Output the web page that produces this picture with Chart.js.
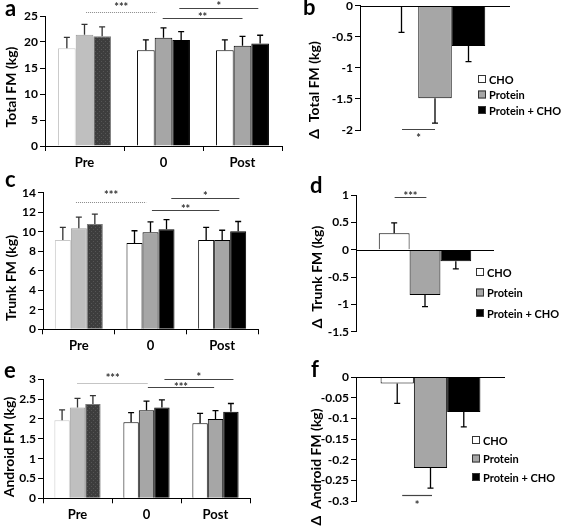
<!DOCTYPE html>
<html>
<head>
<meta charset="utf-8">
<script src="https://cdn.jsdelivr.net/npm/chart.js@4"></script>
<style>
  body { margin: 0; background: #fff; width: 567px; height: 526px; position: relative; overflow: hidden; }
  canvas { position: absolute; }
</style>
</head>
<body>
<canvas id="ca" width="290" height="172" style="left:0;top:0"></canvas>
<canvas id="cb" width="277" height="182" style="left:290px;top:-10px"></canvas>
<canvas id="cc" width="290" height="185" style="left:0;top:168px"></canvas>
<canvas id="cd" width="277" height="180" style="left:290px;top:168px"></canvas>
<canvas id="ce" width="290" height="171" style="left:0;top:355px"></canvas>
<canvas id="cf" width="277" height="171" style="left:290px;top:355px"></canvas>
<script>
var groups = ['Pre', '0', 'Post'];
var seriesNames = ['CHO', 'Protein', 'Protein + CHO'];

// a - total fat mass (kg), bars and error bar lengths
var totalCho = [18.8, 18.4, 18.4];
var totalChoErr = [2.1, 2.0, 2.0];
var totalPro = [21.4, 20.8, 19.3];
var totalProErr = [2.0, 1.9, 1.8];
var totalProCho = [21.1, 20.4, 19.7];
var totalProChoErr = [1.8, 1.6, 1.6];

// b - change in total FM, order CHO / Protein / Protein + CHO
var deltaTotal = [-0.02, -1.49, -0.65];
var deltaTotalErr = [0.41, 0.40, 0.25];

// c - trunk FM
var trunkCho = [9.15, 8.85, 9.15];
var trunkChoErr = [1.3, 1.25, 1.3];
var trunkPro = [10.35, 9.95, 9.15];
var trunkProErr = [1.15, 1.05, 1.0];
var trunkProCho = [10.8, 10.25, 10.05];
var trunkProChoErr = [1.0, 1.0, 1.0];

// d
var deltaTrunk = [0.30, -0.83, -0.21];
var deltaTrunkErr = [0.19, 0.21, 0.14];

// e - android FM
var androidCho = [1.97, 1.92, 1.89];
var androidChoErr = [0.26, 0.24, 0.25];
var androidPro = [2.29, 2.22, 2.0];
var androidProErr = [0.23, 0.23, 0.21];
var androidProCho = [2.38, 2.29, 2.18];
var androidProChoErr = [0.21, 0.19, 0.21];

// f
var deltaAndroid = [-0.015, -0.22, -0.084];
var deltaAndroidErr = [0.048, 0.049, 0.036];

Chart.defaults.font.family = 'Lato';
Chart.defaults.font.weight = 'bold';
Chart.defaults.font.size = 12;
Chart.defaults.color = '#000';

// dotted dark fill used for the faded "Pre" bars
function darkPattern() {
    var c = document.createElement('canvas');
    c.width = 4; c.height = 4;
    var g = c.getContext('2d');
    g.fillStyle = '#3d3d3d';
    g.fillRect(0, 0, 4, 4);
    g.fillStyle = '#555';
    g.fillRect(1, 1, 1, 1);
    g.fillRect(3, 3, 1, 1);
    return g.createPattern(c, 'repeat');
}

var decor = {
    id: 'decor',
    afterDraw: function (chart, args, o) {
        var ctx = chart.ctx, xs = chart.scales.x, ys = chart.scales.y, a = chart.chartArea;
        ctx.save();
        if (o.zero) {
            var z = Math.round(ys.getPixelForValue(0)) + 0.5;
            ctx.strokeStyle = '#000';
            ctx.lineWidth = 1;
            ctx.beginPath();
            ctx.moveTo(a.left, z);
            ctx.lineTo(a.right, z);
            ctx.stroke();
        }
        // error bars
        chart.data.datasets.forEach(function (ds, di) {
            chart.getDatasetMeta(di).data.forEach(function (bar, i) {
                var v = ds.data[i], e = ds.err[i];
                var y1 = ys.getPixelForValue(v < 0 ? v - e : v + e);
                ctx.strokeStyle = (o.errColor && o.errColor[i]) || '#000';
                ctx.lineWidth = 1.3;
                ctx.beginPath();
                ctx.moveTo(bar.x, bar.y);
                ctx.lineTo(bar.x, y1);
                ctx.moveTo(bar.x - 3, y1);
                ctx.lineTo(bar.x + 3, y1);
                ctx.stroke();
            });
        });
        // significance lines
        (o.brackets || []).forEach(function (b) {
            var x0 = xs.getPixelForValue(b.from), x1 = xs.getPixelForValue(b.to);
            var y = Math.round(ys.getPixelForValue(b.y)) + 0.5;
            ctx.strokeStyle = b.dotted ? '#8a8a8a' : '#444';
            ctx.lineWidth = b.dotted ? 1 : 1.2;
            ctx.setLineDash(b.dotted ? [1, 1] : []);
            ctx.beginPath();
            ctx.moveTo(x0, y);
            ctx.lineTo(x1, y);
            ctx.stroke();
            ctx.setLineDash([]);
            ctx.fillStyle = '#333';
            ctx.font = 'bold 11px Lato';
            ctx.textAlign = 'center';
            ctx.textBaseline = 'alphabetic';
            ctx.fillText(b.text, (x0 + x1) / 2, y - b.dy + 6);
        });
        // legend
        if (o.legend) {
            var L = o.legend, s = 8;
            chart.data.datasets.forEach(function (ds, i) {
                var cy = L.y + i * L.step;
                ctx.fillStyle = ds.backgroundColor;
                ctx.fillRect(L.x, cy - s / 2, s, s);
                ctx.strokeStyle = '#333';
                ctx.lineWidth = 1;
                ctx.strokeRect(L.x + 0.5, cy - s / 2 + 0.5, s - 1, s - 1);
                ctx.fillStyle = '#000';
                ctx.font = 'bold ' + L.size + 'px Lato';
                ctx.textAlign = 'left';
                ctx.textBaseline = 'middle';
                ctx.fillText(ds.label, L.x + s + 3, cy + 1);
            });
        }
        // y axis title
        if (o.title) {
            ctx.save();
            ctx.translate(o.title.x, o.title.y);
            ctx.rotate(-Math.PI / 2);
            ctx.font = 'bold 14px Lato';
            ctx.fillStyle = '#000';
            ctx.textAlign = 'center';
            ctx.textBaseline = 'middle';
            ctx.fillText(o.title.text, 0, 0);
            ctx.restore();
        }
        // panel letter
        if (o.panel) {
            ctx.font = 'bold 22px Lato';
            ctx.fillStyle = '#000';
            ctx.textAlign = 'left';
            ctx.textBaseline = 'alphabetic';
            ctx.fillText(o.panel.text, o.panel.x, o.panel.y);
        }
        ctx.restore();
    }
};

function fmt(v) { return String(Math.round(v * 1000) / 1000); }

function yScale(o) {
    return {
        min: o.min, max: o.max,
        ticks: { stepSize: o.step, padding: 2, callback: fmt },
        grid: { drawOnChartArea: false, tickLength: 5, color: '#000' },
        border: { color: '#000' },
        afterFit: function (s) { s.width = o.area.left; }
    };
}

function groupChart(id, o) {
    var pat = darkPattern();
    return new Chart(document.getElementById(id), {
        type: 'bar',
        data: {
            labels: groups,
            datasets: [
                { label: seriesNames[0], data: o.vals[0], err: o.errs[0],
                  backgroundColor: ['#fff', '#fff', '#fff'], borderColor: ['#c8c8c8', '#000', '#000'], borderWidth: 1 },
                { label: seriesNames[1], data: o.vals[1], err: o.errs[1],
                  backgroundColor: ['#bfbfbf', '#a6a6a6', '#a6a6a6'], borderColor: ['#9c9c9c', '#000', '#000'], borderWidth: 1 },
                { label: seriesNames[2], data: o.vals[2], err: o.errs[2],
                  backgroundColor: [pat, '#000', '#000'], borderColor: ['#7a7a7a', '#000', '#000'], borderWidth: 1 }
            ]
        },
        options: {
            responsive: false, animation: false,
            layout: { padding: { top: o.area.top, right: o.area.right, left: 0, bottom: 0 } },
            datasets: { bar: { categoryPercentage: 0.67, barPercentage: 1 } },
            scales: {
                x: {
                    grid: { offset: true, drawOnChartArea: false, tickLength: 5, color: '#000' },
                    border: { color: '#000' },
                    ticks: { padding: 4, font: { size: 13 } },
                    afterFit: function (s) { s.height = o.area.xh; }
                },
                y: yScale(o)
            },
            plugins: {
                legend: { display: false }, tooltip: { enabled: false },
                decor: { errColor: ['#333', '#000', '#000'], brackets: o.brackets, title: o.title, panel: o.panel }
            }
        },
        plugins: [decor]
    });
}

function deltaChart(id, o) {
    var fills = ['#fff', '#a6a6a6', '#000'];
    return new Chart(document.getElementById(id), {
        type: 'bar',
        data: {
            labels: [''],
            datasets: seriesNames.map(function (n, i) {
                return { label: n, data: [o.vals[i]], err: [o.errs[i]],
                         backgroundColor: fills[i], borderColor: '#000', borderWidth: 1 };
            })
        },
        options: {
            responsive: false, animation: false,
            layout: { padding: { top: o.area.top, right: o.area.right, left: 0, bottom: o.area.bottom } },
            datasets: { bar: { categoryPercentage: 0.67, barPercentage: 1 } },
            scales: { x: { display: false }, y: yScale(o) },
            plugins: {
                legend: { display: false }, tooltip: { enabled: false },
                decor: { zero: true, brackets: o.brackets, legend: o.legend, title: o.title, panel: o.panel }
            }
        },
        plugins: [decor]
    });
}

groupChart('ca', {
    vals: [totalCho, totalPro, totalProCho], errs: [totalChoErr, totalProErr, totalProChoErr],
    min: 0, max: 25, step: 5,
    area: { left: 45, top: 16, right: 8, xh: 26 },
    brackets: [
        { from: 0.02, to: 0.91, y: 25.8, text: '***', dotted: true, dy: 7.7 },
        { from: 0.99, to: 2.0, y: 24.7, text: '**', dy: 4 },
        { from: 1.2, to: 2.2, y: 26.5, text: '*', dy: 4.3 }
    ],
    title: { text: 'Total FM (kg)', x: 11, y: 87 },
    panel: { text: 'a', x: 5, y: 16 }
});

deltaChart('cb', {
    vals: deltaTotal, errs: deltaTotalErr,
    min: -2, max: 0, step: 0.5,
    area: { left: 70, top: 15.7, right: 57, bottom: 42 },
    brackets: [{ from: -0.22, to: 0.0, y: -1.99, text: '*', dy: -6 }],
    legend: { x: 188, y: 89, step: 15.5, size: 11 },
    title: { text: 'Δ  Total FM (kg)', x: 24, y: 100 },
    panel: { text: 'b', x: 13, y: 25 }
});

groupChart('cc', {
    vals: [trunkCho, trunkPro, trunkProCho], errs: [trunkChoErr, trunkProErr, trunkProChoErr],
    min: 0, max: 14, step: 2,
    area: { left: 43, top: 24.7, right: 32, xh: 23.7 },
    brackets: [
        { from: -0.04, to: 0.94, y: 13.0, text: '***', dotted: true, dy: 9.6 },
        { from: 1.02, to: 1.96, y: 12.2, text: '**', dy: 4 },
        { from: 1.29, to: 2.24, y: 13.5, text: '*', dy: 5 }
    ],
    title: { text: 'Trunk FM (kg)', x: 11, y: 110 },
    panel: { text: 'c', x: 5, y: 19 }
});

deltaChart('cd', {
    vals: deltaTrunk, errs: deltaTrunkErr,
    min: -1.5, max: 1, step: 0.5,
    area: { left: 66, top: 27, right: 73, bottom: 16.3 },
    brackets: [{ from: -0.22, to: 0.01, y: 0.97, text: '***', dy: 4 }],
    legend: { x: 186, y: 104, step: 20.5, size: 11 },
    title: { text: 'Δ  Trunk FM (kg)', x: 27, y: 109 },
    panel: { text: 'd', x: 20, y: 25 }
});

groupChart('ce', {
    vals: [androidCho, androidPro, androidProCho], errs: [androidChoErr, androidProErr, androidProChoErr],
    min: 0, max: 3, step: 0.5,
    area: { left: 43, top: 24.3, right: 40, xh: 27.7 },
    brackets: [
        { from: 0.0, to: 1.02, y: 2.91, text: '***', dotted: true, dy: 7.7 },
        { from: 1.02, to: 1.98, y: 2.81, text: '***', dy: 2.7 },
        { from: 1.26, to: 2.26, y: 3.02, text: '*', dy: 4.3 }
    ],
    title: { text: 'Android FM (kg)', x: 9, y: 92 },
    panel: { text: 'e', x: 4, y: 23 }
});

deltaChart('cf', {
    vals: deltaAndroid, errs: deltaAndroidErr,
    min: -0.3, max: 0, step: 0.05,
    area: { left: 66, top: 22.3, right: 62, bottom: 25 },
    brackets: [{ from: -0.19, to: 0.01, y: -0.2857, text: '*', dy: -7 }],
    legend: { x: 182, y: 85, step: 18.5, size: 11 },
    title: { text: 'Δ  Android FM (kg)', x: 26, y: 112 },
    panel: { text: 'f', x: 21, y: 22 }
});
</script>
</body>
</html>
